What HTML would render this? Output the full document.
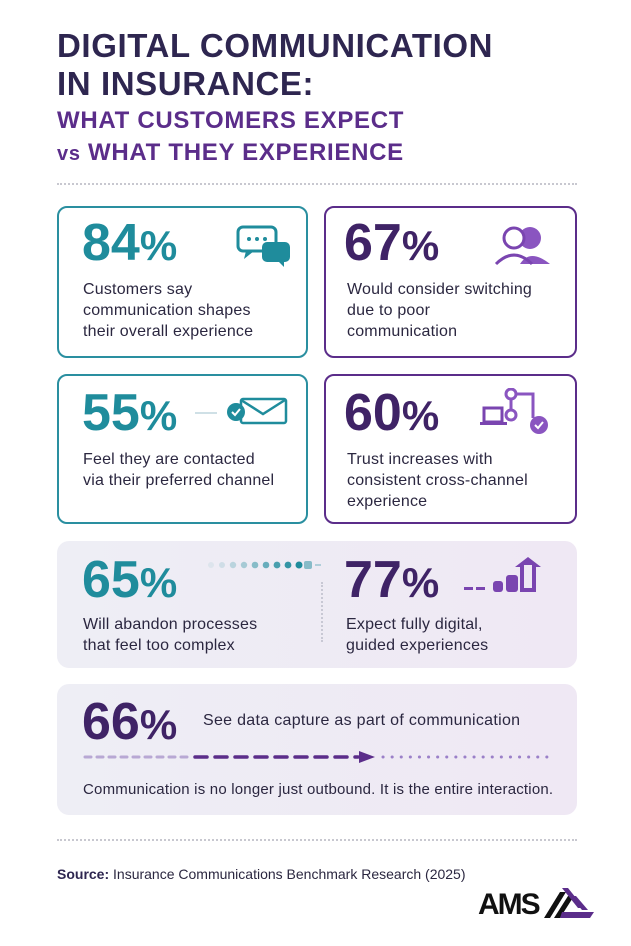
<!DOCTYPE html>
<html><head><meta charset="utf-8"><style>
*{margin:0;padding:0;box-sizing:border-box}
body{width:631px;height:946px;background:#fff;font-family:"Liberation Sans",sans-serif;position:relative;overflow:hidden;color:#2b2740}
.a{position:absolute}
.t1{font-weight:bold;font-size:33px;color:#2e2650;letter-spacing:0.6px;line-height:38px}
.t2{font-weight:bold;font-size:24px;color:#5b2d8a;line-height:32px;letter-spacing:0.7px}
.dots{border-top:2px dotted #c8c8d0;height:0}
.card{border:2px solid;border-radius:10px;background:#fff}
.teal{border-color:#2a8fa0}.purp{border-color:#5b2d8a}
.num{font-weight:bold;font-size:52px;letter-spacing:0px;line-height:50px}
.num span{font-size:42px}
.nt{color:#1f8c9c}.np{color:#3f2366}
.d{font-size:16px;line-height:21px;color:#2b2740;letter-spacing:0.2px}
.panel{border-radius:12px;background:linear-gradient(90deg,#eeeef5,#efe8f4)}
</style></head><body>
<div class="a t1" style="left:57px;top:27px">DIGITAL COMMUNICATION<br>IN INSURANCE:</div>
<div class="a t2" style="left:57px;top:105px">WHAT CUSTOMERS EXPECT<br><span style="font-size:20px">vs</span> WHAT THEY EXPERIENCE</div>
<div class="a dots" style="left:57px;top:183px;width:520px"></div>

<div class="a card teal" style="left:57px;top:206px;width:251px;height:152px"></div>
<div class="a num nt" style="left:82px;top:218px">84<span>%</span></div>
<svg class="a" style="left:236px;top:225px" width="56" height="45"><rect x="2" y="2" width="38" height="24" rx="5" fill="#fff" stroke="#1f8c9c" stroke-width="3"/><path d="M10 26 L8 34 L18 26Z" fill="#1f8c9c"/><circle cx="13" cy="14" r="2" fill="#1f8c9c"/><circle cx="21" cy="14" r="2" fill="#1f8c9c"/><circle cx="29" cy="14" r="2" fill="#1f8c9c"/><rect x="26" y="17" width="28" height="20" rx="5" fill="#1f8c9c"/><path d="M42 36 L48 42 L48 34Z" fill="#1f8c9c"/></svg>
<div class="a d" style="left:83px;top:279px">Customers say<br>communication shapes<br>their overall experience</div>

<div class="a card purp" style="left:324px;top:206px;width:253px;height:152px"></div>
<div class="a num np" style="left:344px;top:218px">67<span>%</span></div>
<svg class="a" style="left:492px;top:224px" width="60" height="42"><circle cx="38" cy="14" r="11" fill="#8a55c0"/><path d="M28 40 Q38 24 58 40Z" fill="#8a55c0"/><circle cx="22" cy="14" r="10" fill="#fff" stroke="#7a45b0" stroke-width="3"/><path d="M4 40 Q22 22 40 40" fill="none" stroke="#7a45b0" stroke-width="3"/></svg>
<div class="a d" style="left:347px;top:279px">Would consider switching<br>due to poor<br>communication</div>

<div class="a card teal" style="left:57px;top:374px;width:251px;height:150px"></div>
<div class="a num nt" style="left:82px;top:388px">55<span>%</span></div>
<div class="a" style="left:195px;top:412px;width:22px;height:2px;background:#cfe0e6"></div>
<svg class="a" style="left:225px;top:396px" width="64" height="30"><rect x="16" y="3" width="45" height="24" rx="2" fill="#fff" stroke="#1f8c9c" stroke-width="2.5"/><path d="M16 4 L38 18 L60 4" fill="none" stroke="#1f8c9c" stroke-width="2.5"/><circle cx="11" cy="16" r="9" fill="#1f8c9c"/><path d="M7 16 L10 19 L15 13" stroke="#fff" stroke-width="2" fill="none"/></svg>
<div class="a d" style="left:83px;top:449px">Feel they are contacted<br>via their preferred channel</div>

<div class="a card purp" style="left:324px;top:374px;width:253px;height:150px"></div>
<div class="a num np" style="left:344px;top:388px">60<span>%</span></div>
<svg class="a" style="left:478px;top:388px" width="76" height="50"><circle cx="33" cy="6" r="5" fill="#fff" stroke="#8a55c0" stroke-width="3"/><path d="M38 6 H55 V30" fill="none" stroke="#8a55c0" stroke-width="3"/><path d="M33 11 V22" stroke="#8a55c0" stroke-width="3"/><circle cx="33" cy="27" r="5" fill="#fff" stroke="#8a55c0" stroke-width="3"/><rect x="6" y="20" width="18" height="14" fill="#fff" stroke="#7a45b0" stroke-width="3"/><rect x="2" y="34" width="27" height="3" fill="#7a45b0"/><circle cx="61" cy="37" r="9" fill="#8a55c0"/><path d="M57 37 L60 40 L65 34" stroke="#fff" stroke-width="2" fill="none"/></svg>
<div class="a d" style="left:347px;top:449px">Trust increases with<br>consistent cross-channel<br>experience</div>

<div class="a panel" style="left:57px;top:541px;width:520px;height:127px"></div>
<div class="a num nt" style="left:82px;top:555px">65<span>%</span></div>
<svg class="a" style="left:205px;top:559px" width="120" height="12"><g fill="#1f8c9c"><circle cx="6" cy="6" r="3" opacity=".08"/><circle cx="17" cy="6" r="3" opacity=".15"/><circle cx="28" cy="6" r="3.2" opacity=".25"/><circle cx="39" cy="6" r="3.2" opacity=".35"/><circle cx="50" cy="6" r="3.3" opacity=".5"/><circle cx="61" cy="6" r="3.3" opacity=".65"/><circle cx="72" cy="6" r="3.4" opacity=".8"/><circle cx="83" cy="6" r="3.4" opacity=".9"/><circle cx="94" cy="6" r="3.5"/><rect x="99" y="2" width="8" height="8" rx="2" opacity=".5"/><rect x="110" y="5" width="6" height="2" opacity=".3"/></g></svg>
<div class="a" style="left:321px;top:582px;height:60px;border-left:2px dotted #c8c8d4"></div>
<div class="a d" style="left:83px;top:614px">Will abandon processes<br>that feel too complex</div>
<div class="a num np" style="left:344px;top:555px">77<span>%</span></div>
<svg class="a" style="left:464px;top:557px" width="86" height="38"><g fill="#7a45b0"><rect x="0" y="30" width="9" height="3"/><rect x="12" y="30" width="9" height="3"/><rect x="29" y="24" width="10" height="11" rx="3"/><rect x="42" y="18" width="12" height="17" rx="3"/><path d="M56 35 V10 H51 L64 0 L77 10 H72 V35 Z M60 31 H68 V8 H60 Z" fill-rule="evenodd"/></g></svg>
<div class="a d" style="left:346px;top:614px">Expect fully digital,<br>guided experiences</div>

<div class="a panel" style="left:57px;top:684px;width:520px;height:131px"></div>
<div class="a num np" style="left:82px;top:697px">66<span>%</span></div>
<div class="a d" style="left:203px;top:710px;font-size:16px;letter-spacing:0.3px">See data capture as part of communication</div>
<svg class="a" style="left:83px;top:750px" width="470" height="14"><g stroke-linecap="round"><path d="M2 7 H110" stroke="#b8a8d4" stroke-width="3" stroke-dasharray="6 6"/><path d="M112 7 H275" stroke="#5b2d8a" stroke-width="3.5" stroke-dasharray="12 8"/><path d="M276 1 L292 7 L276 13Z" fill="#5b2d8a"/><path d="M300 7 H468" stroke="#9b80c8" stroke-width="3" stroke-dasharray="0.1 9"/></g></svg>
<div class="a d" style="left:83px;top:779px;font-size:15px;letter-spacing:0.2px">Communication is no longer just outbound. It is the entire interaction.</div>

<div class="a dots" style="left:57px;top:839px;width:520px"></div>
<div class="a" style="left:57px;top:866px;font-size:14px;color:#2b2740"><b style="color:#2e2650">Source:</b> Insurance Communications Benchmark Research (2025)</div>
<div class="a" style="left:478px;top:889px;font-size:30px;font-weight:bold;color:#111;letter-spacing:-2px;line-height:32px">AMS</div>
<svg class="a" style="left:540px;top:888px" width="54" height="34"><g fill="#5b2d8a"><path d="M4 30 L20 4 L26 4 L10 30Z" fill="#111"/><path d="M14 30 L28 8 L34 8 L20 30Z" fill="#111"/><path d="M22 0 H28 L44 20 H38Z"/><path d="M30 8 H36 L48 22 H42Z"/><path d="M22 24 H54 L50 30 H20Z"/></g></svg>
</body></html>
